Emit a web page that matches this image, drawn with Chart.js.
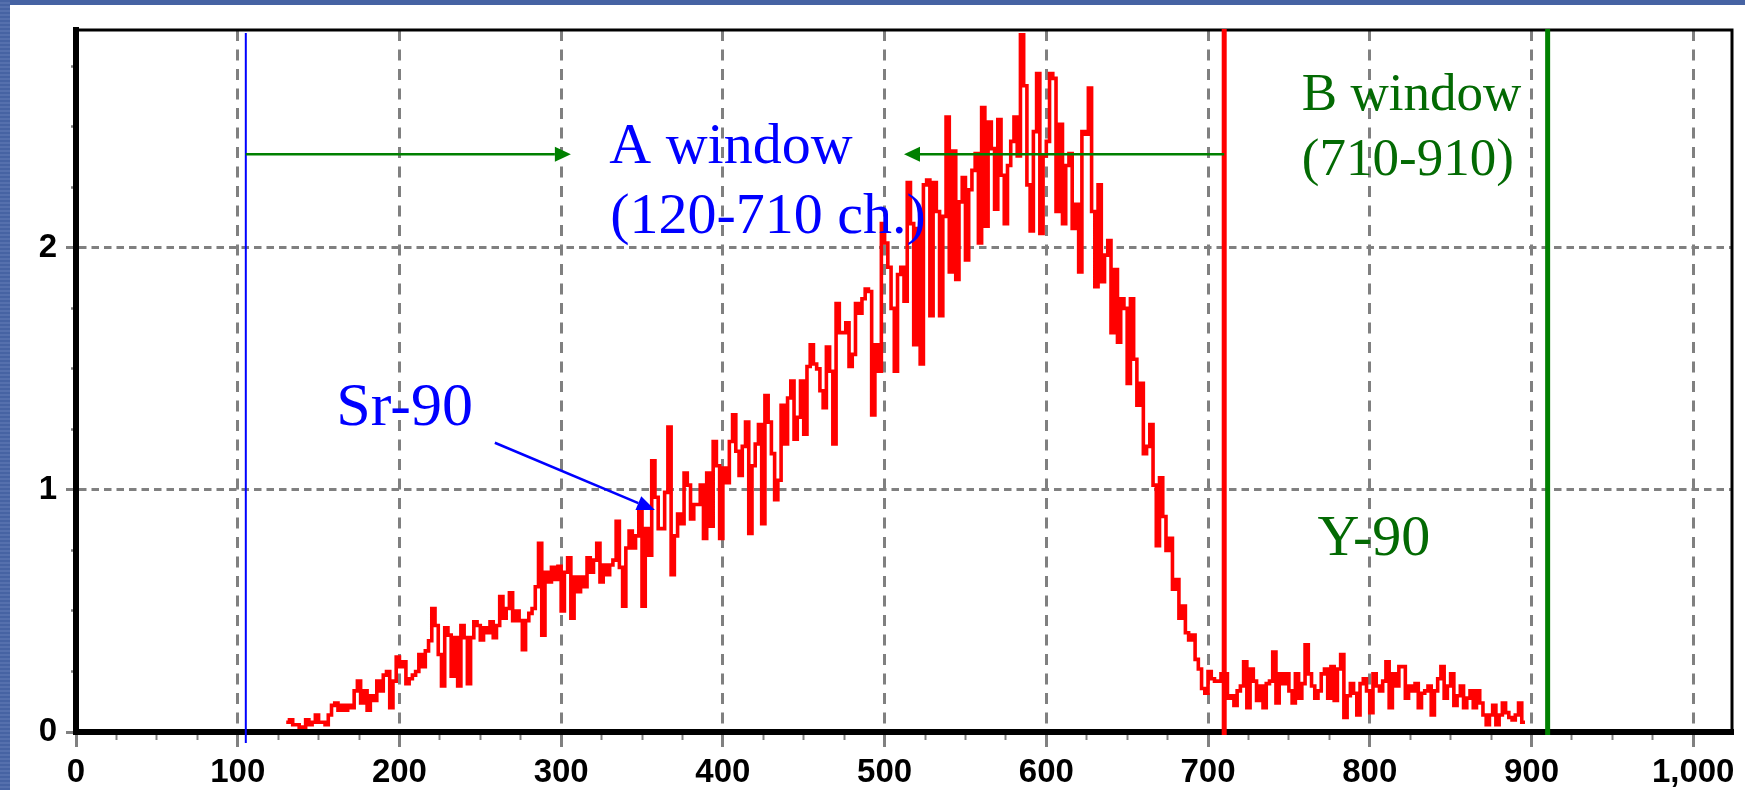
<!DOCTYPE html>
<html><head><meta charset="utf-8">
<script src="https://cdn.jsdelivr.net/npm/chart.js@4.4.1/dist/chart.umd.min.js"></script>
<style>
html,body{margin:0;padding:0;background:#fff;overflow:hidden}
#wrap{position:relative;width:1745px;height:790px;background:#fff}
#topband{position:absolute;left:0;top:0;width:1745px;height:5px;background:#4663a3}
#leftband{position:absolute;left:0;top:0;width:10px;height:790px;background:repeating-linear-gradient(#4663a3 0 2px,#5570ad 2px 4px)}
canvas{position:absolute;left:0;top:0}
</style></head>
<body><div id="wrap"><canvas id="c" width="1745" height="790"></canvas><div id="topband"></div><div id="leftband"></div></div>
<script>
// Spectrum: counts per 2-channel bin, first bin starts at channel 130
const binStart = 130;
const binWidth = 2;
const counts = [
  0.04,0.05,0.03,0.03,0.01,0.02,0.05,0.03,0.04,0.07,
  0.04,0.04,0.03,0.07,0.11,0.12,0.09,0.11,0.09,0.11,
  0.10,0.17,0.21,0.12,0.17,0.09,0.15,0.13,0.21,0.17,
  0.235,0.25,0.10,0.21,0.31,0.27,0.29,0.20,0.22,0.235,
  0.25,0.32,0.27,0.335,0.377,0.51,0.44,0.32,0.19,0.43,
  0.40,0.23,0.39,0.19,0.44,0.39,0.20,0.39,0.455,0.44,
  0.38,0.43,0.41,0.455,0.39,0.44,0.56,0.47,0.51,0.575,
  0.46,0.50,0.46,0.34,0.46,0.49,0.51,0.60,0.78,0.40,
  0.66,0.62,0.68,0.63,0.685,0.50,0.66,0.72,0.47,0.64,
  0.58,0.64,0.60,0.72,0.66,0.71,0.78,0.62,0.69,0.65,
  0.69,0.71,0.87,0.68,0.52,0.76,0.83,0.76,0.81,0.92,
  0.52,0.84,0.73,1.12,0.97,0.84,0.84,0.99,1.26,0.65,
  0.81,0.90,0.86,1.07,1.02,0.88,0.94,0.94,1.02,0.80,
  1.07,0.85,1.20,1.10,0.80,1.09,1.03,1.20,1.31,1.16,
  1.06,1.18,1.28,0.82,1.10,1.19,1.27,0.86,1.39,1.28,
  1.15,0.96,1.04,1.35,1.19,1.38,1.45,1.21,1.30,1.45,
  1.23,1.51,1.60,1.52,1.50,1.41,1.34,1.59,1.49,1.19,
  1.77,1.65,1.65,1.69,1.51,1.56,1.77,1.73,1.79,1.83,
  1.82,1.31,1.60,1.49,2.10,2.02,1.92,1.75,1.49,1.89,
  1.92,1.78,2.27,2.10,1.60,2.08,1.52,2.26,2.28,1.72,
  2.27,2.15,1.72,2.13,2.54,1.90,2.40,1.87,2.19,2.29,
  1.95,2.24,2.32,2.39,2.02,2.58,2.09,2.52,2.41,2.16,
  2.53,2.30,2.10,2.34,2.44,2.54,2.38,2.88,2.67,2.26,
  2.07,2.48,2.72,2.06,2.38,2.44,2.72,2.70,2.15,2.51,
  2.10,2.34,2.39,2.08,2.18,1.90,2.48,2.47,2.66,2.15,
  1.84,2.26,1.86,1.97,2.03,1.65,1.91,1.61,1.79,1.75,
  1.44,1.79,1.54,1.35,1.44,1.15,1.18,1.27,1.02,0.77,
  1.05,0.89,0.75,0.80,0.59,0.63,0.47,0.52,0.41,0.38,
  0.40,0.30,0.26,0.18,0.16,0.25,0.22,0.21,0.21,0.24,
  0.24,0.14,0.15,0.11,0.17,0.19,0.29,0.10,0.26,0.21,
  0.13,0.19,0.10,0.20,0.21,0.33,0.12,0.24,0.20,0.24,
  0.17,0.12,0.24,0.14,0.20,0.36,0.24,0.19,0.14,0.17,
  0.24,0.26,0.14,0.27,0.13,0.26,0.32,0.06,0.15,0.20,
  0.16,0.07,0.20,0.22,0.17,0.08,0.24,0.19,0.17,0.21,
  0.29,0.10,0.24,0.19,0.27,0.27,0.14,0.19,0.17,0.20,
  0.10,0.16,0.17,0.19,0.07,0.17,0.22,0.27,0.14,0.19,
  0.24,0.11,0.15,0.19,0.10,0.14,0.17,0.10,0.17,0.12,
  0.07,0.03,0.07,0.11,0.03,0.07,0.12,0.08,0.06,0.05,
  0.07,0.12,0.04
];
// Window boundaries (channels)
const windowEdges = [105, 710, 910];
// Axis ticks
const xTickValues = [0,100,200,300,400,500,600,700,800,900,1000];
const xTickLabels = ['0','100','200','300','400','500','600','700','800','900','1,000'];
const yTickValues = [0,1,2];
const yTickLabels = ['0','1','2'];

const points = counts.map((v, i) => ({x: binStart + i * binWidth, y: v}));
points.push({x: binStart + counts.length * binWidth, y: counts[counts.length - 1]});

const tickFont = {family: '"Liberation Sans Narrow", "Liberation Sans", Arial, sans-serif', size: 33, weight: 'bold', lineHeight: 1};

const annot = {
  id: 'annot',
  afterDraw(chart) {
    const {ctx, chartArea: ca, scales: {x, y}} = chart;
    const X = v => x.getPixelForValue(v), Y = v => y.getPixelForValue(v);
    ctx.save();
    ctx.strokeStyle = '#000'; ctx.lineWidth = 3; ctx.setLineDash([]);
    ctx.beginPath(); ctx.moveTo(ca.left, ca.top); ctx.lineTo(ca.right, ca.top); ctx.lineTo(ca.right, ca.bottom); ctx.stroke();
    function vline(px, y1, y2, color, w) {
      ctx.strokeStyle = color; ctx.lineWidth = w;
      ctx.beginPath(); ctx.moveTo(px, y1); ctx.lineTo(px, y2); ctx.stroke();
    }
    function arrow(x1, y1, x2, y2, color, w, hl, hw) {
      const a = Math.atan2(y2 - y1, x2 - x1);
      const bx = x2 - hl * Math.cos(a), by = y2 - hl * Math.sin(a);
      ctx.strokeStyle = color; ctx.fillStyle = color; ctx.lineWidth = w;
      ctx.beginPath(); ctx.moveTo(x1, y1); ctx.lineTo(bx, by); ctx.stroke();
      ctx.beginPath();
      ctx.moveTo(x2, y2);
      ctx.lineTo(bx + hw * Math.sin(a), by - hw * Math.cos(a));
      ctx.lineTo(bx - hw * Math.sin(a), by + hw * Math.cos(a));
      ctx.closePath(); ctx.fill();
    }
    function txt(s, ch, v, size, color) {
      ctx.font = size + 'px "Liberation Serif", "Times New Roman", serif';
      ctx.fillStyle = color; ctx.textAlign = 'left'; ctx.textBaseline = 'alphabetic';
      ctx.fillText(s, X(ch), Y(v));
    }
    vline(X(windowEdges[0]), ca.top + 3, ca.bottom + 11, '#0000ff', 2);
    vline(X(windowEdges[1]), ca.top - 1, ca.bottom + 3, '#ff0000', 5);
    vline(X(windowEdges[2]), ca.top - 1, ca.bottom + 3, '#008000', 5);
    arrow(X(windowEdges[0]), Y(2.387), X(306), Y(2.387), '#008000', 2.5, 16, 7.5);
    arrow(X(windowEdges[1]), Y(2.387), X(512), Y(2.387), '#008000', 2.5, 16, 7.5);
    arrow(X(259), Y(1.195), X(358), Y(0.917), '#0000ff', 2.5, 18, 7.5);
    txt('A window', 329.8, 2.351, 58, '#0000ff');
    txt('(120-710 ch.)', 330.3, 2.062, 58, '#0000ff');
    txt('B window', 758, 2.570, 53, '#036a03');
    txt('(710-910)', 758, 2.301, 53, '#036a03');
    txt('Sr-90', 161, 1.27, 62, '#0000ff');
    txt('Y-90', 767.7, 0.731, 58, '#036a03');
    ctx.restore();
  }
};

new Chart(document.getElementById('c'), {
  type: 'line',
  data: {datasets: [{
    data: points,
    borderColor: '#ff0000',
    borderWidth: 3.6,
    stepped: true,
    pointRadius: 0,
    fill: false,
    borderJoinStyle: 'miter',
    borderCapStyle: 'butt'
  }]},
  options: {
    responsive: false,
    animation: false,
    events: [],
    layout: {padding: {left: 0, top: 30, right: 13, bottom: 0}},
    plugins: {legend: {display: false}, tooltip: {enabled: false}},
    scales: {
      x: {
        type: 'linear', min: 0, max: 1024,
        afterFit: s => { s.height = 58; },
        border: {display: true, color: '#000', width: 6, z: 1, dash: [11, 8.5]},
        grid: {
          color: c => xTickValues.includes(c.tick.value) ? '#808080' : 'rgba(0,0,0,0)',
          lineWidth: 3,
          tickLength: 15,
          tickColor: '#808080',
          tickWidth: c => xTickValues.includes(c.tick.value) ? 3 : 2,
          tickBorderDash: c => xTickValues.includes(c.tick.value) ? [] : [5, 100]
        },
        ticks: {
          stepSize: 25, includeBounds: false, autoSkip: false, maxRotation: 0, minRotation: 0,
          padding: 9, color: '#000', font: tickFont,
          callback: v => { const i = xTickValues.indexOf(v); return i >= 0 ? xTickLabels[i] : ''; }
        }
      },
      y: {
        type: 'linear', min: 0, max: 2.9,
        afterFit: s => { s.width = 76; },
        border: {display: true, color: '#000', width: 6, z: 1, dash: [7.5, 5]},
        grid: {
          color: c => yTickValues.includes(c.tick.value) ? '#808080' : 'rgba(0,0,0,0)',
          lineWidth: 3,
          tickLength: 10,
          tickColor: '#808080',
          tickWidth: c => yTickValues.includes(c.tick.value) ? 3 : 2.5,
          tickBorderDash: c => yTickValues.includes(c.tick.value) ? [] : [0, 5, 3, 50]
        },
        ticks: {
          stepSize: 0.25, includeBounds: false, autoSkip: false,
          padding: 9, color: '#000', font: tickFont,
          callback: v => { const i = yTickValues.indexOf(v); return i >= 0 ? yTickLabels[i] : ''; }
        }
      }
    }
  },
  plugins: [annot]
});
</script>
</body></html>
